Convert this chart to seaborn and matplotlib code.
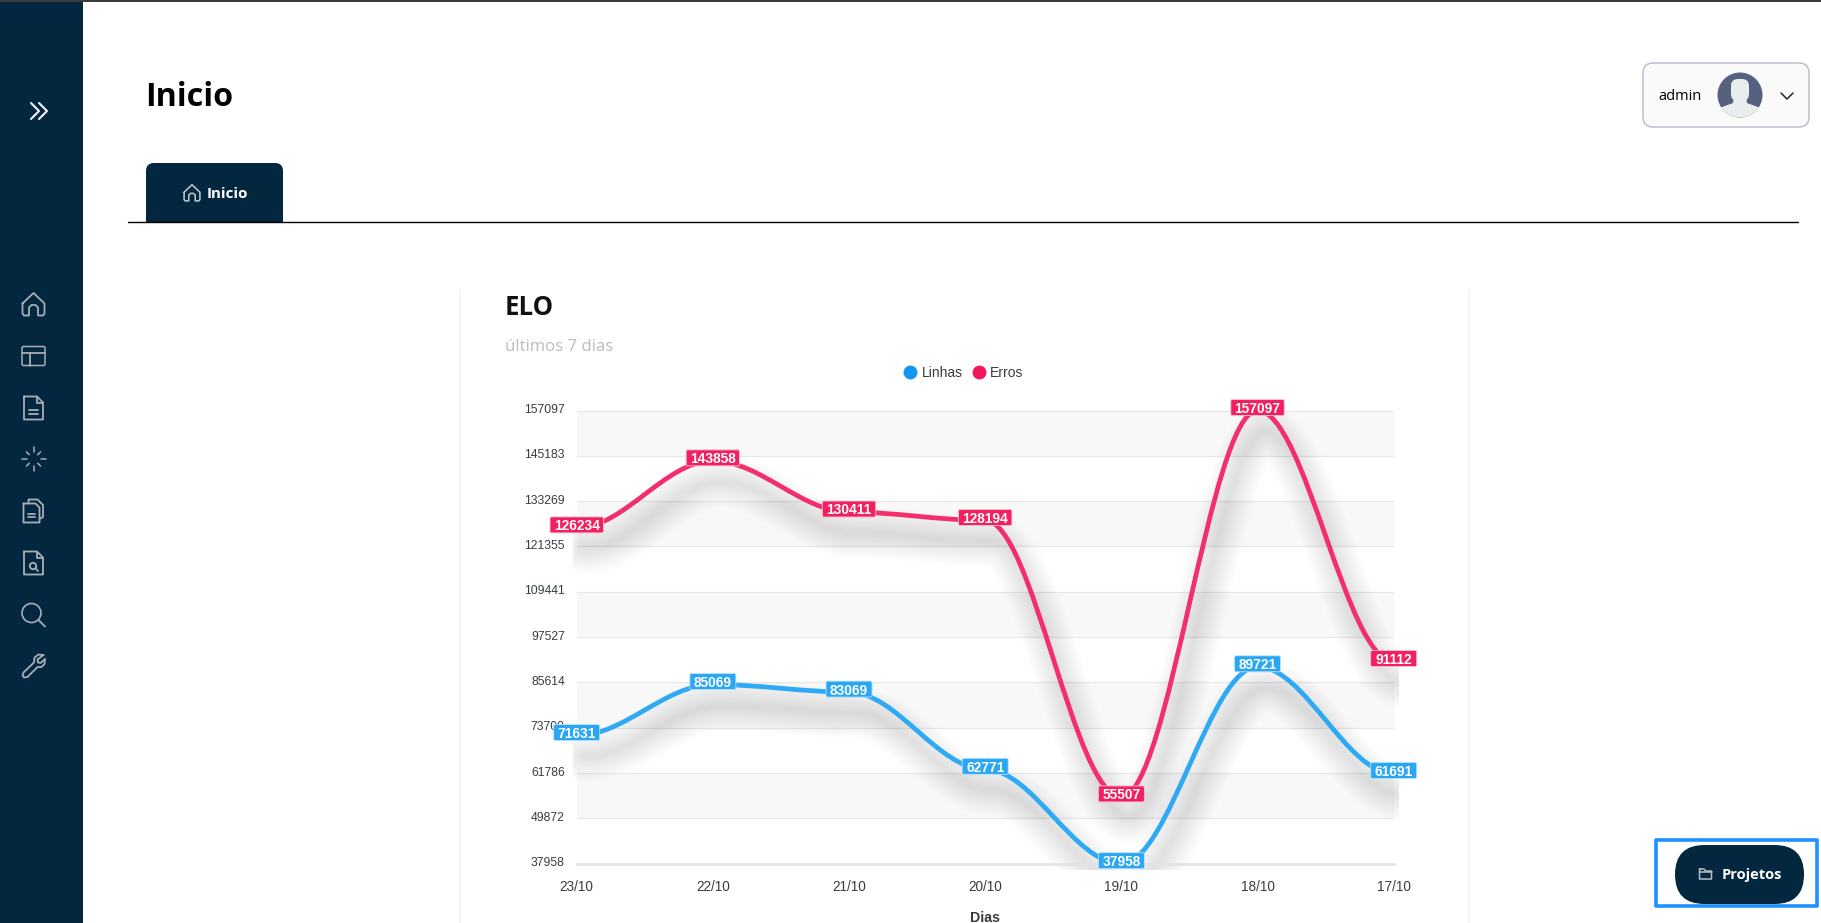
import numpy as np
import pandas as pd
import matplotlib.pyplot as plt
import seaborn as sns
from matplotlib.patches import Circle, FancyBboxPatch, PathPatch, Rectangle
from matplotlib.path import Path
from matplotlib.transforms import Affine2D, Bbox, ScaledTranslation

# valores
dias = ["23/10", "22/10", "21/10", "20/10", "19/10", "18/10", "17/10"]
linhas = [71631, 85069, 83069, 62771, 37958, 89721, 61691]
erros = [126234, 143858, 130411, 128194, 55507, 157097, 91112]
y_ticks = [157097, 145183, 133269, 121355, 109441, 97527, 85614, 73700, 61786, 49872, 37958]

NAVY = "#02273f"
ICON = "#a8aeb6"
CHART_FONT = ["Liberation Sans", "DejaVu Sans"]
UI_FONT = ["Open Sans", "DejaVu Sans"]
BLUE, RED = "#2ea9f4", "#f32e6c"
BLUE_BOX, RED_BOX = "#29a7f5", "#f2205f"

sns.set_theme(style="white")
plt.rcParams["font.family"] = CHART_FONT

W, H = 1821, 923
fig = plt.figure(figsize=(W / 100, H / 100), dpi=100, facecolor="white")

# camada da pagina, em pixels
ui = fig.add_axes([0, 0, 1, 1], zorder=0)
ui.set_xlim(0, W)
ui.set_ylim(H, 0)
ui.axis("off")


def stroke(points, color=ICON, lw=1.3, closed=False):
    xs, ys = zip(*points)
    if closed:
        xs, ys = xs + xs[:1], ys + ys[:1]
    ui.plot(xs, ys, color=color, lw=lw, solid_capstyle="round", solid_joinstyle="round")


def round_box(x0, y0, x1, y1, r, face, edge="none", lw=0):
    return ui.add_patch(FancyBboxPatch((x0 + r, y0 + r), x1 - x0 - 2 * r, y1 - y0 - 2 * r,
                                       boxstyle=f"round,pad={r},rounding_size={r}",
                                       fc=face, ec=edge, lw=lw))


def icon_home(cx, cy, s=1.0, color=ICON, lw=1.3):
    p = [(-11, -1), (0, -11.5), (11, -1), (11, 9), (9.5, 11), (4.5, 11), (4.5, 3),
         (2, 0.5), (-2, 0.5), (-4.5, 3), (-4.5, 11), (-9.5, 11), (-11, 9)]
    stroke([(cx + a * s, cy + b * s) for a, b in p], color, lw, closed=True)


def icon_layout(cx, cy):
    round_box(cx - 11.5, cy - 9.5, cx + 11.5, cy + 9.5, 1.5, "none", ICON, 1.1)
    stroke([(cx - 11.5, cy - 3.5), (cx + 11.5, cy - 3.5)])
    stroke([(cx - 3.5, cy - 3.5), (cx - 3.5, cy + 9.5)])


def doc_outline(cx, cy, w=9.5, h=11.5, fold=6):
    return [(cx - w, cy - h), (cx + w - fold, cy - h), (cx + w, cy - h + fold),
            (cx + w, cy + h), (cx - w, cy + h)]


def icon_doc(cx, cy):
    stroke(doc_outline(cx, cy), closed=True)
    stroke([(cx + 3.5, cy - 11.5), (cx + 3.5, cy - 5.5), (cx + 9.5, cy - 5.5)])
    stroke([(cx - 4.5, cy + 1.5), (cx + 4.5, cy + 1.5)])
    stroke([(cx - 4.5, cy + 5.5), (cx + 4.5, cy + 5.5)])


def icon_loader(cx, cy):
    for k in range(8):
        a = k * np.pi / 4
        r0 = 6 if k % 2 else 7
        r1 = 10 if k % 2 else 12
        stroke([(cx + r0 * np.cos(a), cy + r0 * np.sin(a)),
                (cx + r1 * np.cos(a), cy + r1 * np.sin(a))], lw=1.1)


def icon_docs(cx, cy):
    stroke(doc_outline(cx - 2, cy + 2, 8, 9.5, 4), closed=True)
    stroke([(cx - 6, cy + 2.5), (cx + 1, cy + 2.5)])
    stroke([(cx - 6, cy + 6), (cx + 1, cy + 6)])
    stroke([(cx - 5, cy - 7.5), (cx - 5, cy - 11.5), (cx + 4, cy - 11.5), (cx + 9.5, cy - 6),
            (cx + 9.5, cy + 6), (cx + 6, cy + 8)])


def icon_doc_search(cx, cy):
    stroke(doc_outline(cx, cy), closed=True)
    stroke([(cx + 3.5, cy - 11.5), (cx + 3.5, cy - 5.5), (cx + 9.5, cy - 5.5)])
    ui.add_patch(Circle((cx - 0.5, cy + 3), 3.2, fc="none", ec=ICON, lw=1.3))
    stroke([(cx + 2, cy + 5.5), (cx + 4.5, cy + 8)])


def icon_search(cx, cy):
    ui.add_patch(Circle((cx - 2, cy - 2), 9.5, fc="none", ec=ICON, lw=1.2))
    stroke([(cx + 5, cy + 5), (cx + 11.5, cy + 11.5)])


def icon_wrench(cx, cy):
    p = [(10, -11), (5, -11.5), (1, -8.5), (0.5, -3.5), (-10, 6.5), (-11, 9.5), (-9.5, 11.5),
         (-6, 11), (4, 1), (8, 1), (11, -2), (11.5, -7), (7, -3), (4.5, -3.5), (4, -6.5)]
    stroke([(cx + a, cy + b) for a, b in p], closed=True)


def icon_folder(cx, cy, color=ICON):
    stroke([(cx - 6, cy - 5), (cx - 1.5, cy - 5), (cx, cy - 3), (cx + 6, cy - 3),
            (cx + 6, cy + 5), (cx - 6, cy + 5)], color, 1.1, closed=True)
    stroke([(cx - 6, cy - 2), (cx + 6, cy - 2)], color, 1.1)


# barra lateral
ui.add_patch(Rectangle((0, 0), 83, H, fc=NAVY, ec="none"))
ui.add_patch(Rectangle((0, 0), W, 1.5, fc="#3a3a3a", ec="none"))
for dx in (0, 8):
    stroke([(31 + dx, 103), (39 + dx, 111), (31 + dx, 119)], "#f2f4f6", 1.5)
icon_home(33.5, 304.5)
icon_layout(33.5, 356)
icon_doc(33.5, 408)
icon_loader(33.5, 459)
icon_docs(33.5, 511)
icon_doc_search(33.5, 563)
icon_search(33.5, 615)
icon_wrench(33.5, 666)

# cabecalho
ui.text(145.5, 97, "Inicio", family=UI_FONT, fontsize=23.2, fontweight="bold", color="black",
        va="center")
tab = round_box(146, 163, 283, 240, 8, NAVY)
tab.set_clip_path(Rectangle((146, 163), 137, 59, transform=ui.transData))
icon_home(192, 193, 0.72, "#c4c9ce", 1.1)
ui.text(207, 193.5, "Inicio", family=UI_FONT, fontsize=10.9, fontweight="bold", color="white",
        va="center")
ui.plot([128, 1798], [222, 222], color="black", lw=1.0)

# caixa do utilizador
round_box(1643, 63, 1809, 127, 10, "#fafafa", "#b8b8c8", 1.0)
ui.text(1658, 96, "admin", family=UI_FONT, fontsize=10.5, fontweight="medium", color="black",
        va="center")
avatar = ui.add_patch(Circle((1740, 95), 22.5, fc="#56607f", ec="none"))
head = ui.add_patch(FancyBboxPatch((1734, 82), 12, 16, boxstyle="round,pad=3,rounding_size=7",
                                   fc="#e8eded", ec="none"))
torso = ui.fill([1734, 1746, 1747, 1766, 1766, 1714, 1714, 1733],
                [96, 96, 103, 110, 120, 120, 110, 103], color="#e8eded", lw=0)[0]
torso.set_clip_path(avatar)
stroke([(1781, 93), (1787, 99), (1793, 93)], "#222222", 1.1)

# botao Projetos
ui.add_patch(Rectangle((1655.5, 839.5), 161, 66, fc="none", ec="#1e90ff", lw=2.6, joinstyle="round"))
round_box(1675, 845, 1804, 904, 29.5, NAVY)
icon_folder(1705.5, 874, "#b9bec4")
ui.text(1722, 874.5, "Projetos", family=UI_FONT, fontsize=10.5, fontweight="bold", color="white",
        va="center")

# cartao do grafico
for x in (460, 1469):
    ui.plot([x, x], [290, H], color="#f3f3f3", lw=1.3)
ui.text(505, 307.5, "ELO", family=UI_FONT, fontsize=18.5, fontweight="bold", color="#111111",
        va="center")
ui.text(505, 347, "últimos 7 dias", family=UI_FONT, fontsize=12.1, color="#b9bdc3", va="center")

# grafico
x0, x1, y0, y1 = 576.7, 1393.7, 410.5, 863.7
ax = fig.add_axes([x0 / W, 1 - y1 / H, (x1 - x0) / W, (y1 - y0) / H], zorder=1)
ax.patch.set_alpha(0)

df = pd.DataFrame({
    "dia": dias * 2,
    "valor": linhas + erros,
    "serie": ["Linhas"] * len(dias) + ["Erros"] * len(dias),
})
sns.scatterplot(data=df, x="dia", y="valor", hue="serie", hue_order=["Linhas", "Erros"],
                palette=["#0f97f1", "#f2185b"], s=30, linewidth=0, clip_on=False, zorder=4, ax=ax)

ax.set_xlim(0, len(dias) - 1)
ax.set_ylim(min(y_ticks), max(y_ticks))
ax.set_yticks(y_ticks)
ax.set_yticklabels([str(v) for v in y_ticks], fontsize=8.7, color="#373d3f")
ax.tick_params(axis="y", length=0, pad=8.5)
ax.tick_params(axis="x", length=5, width=1.0, color="#e0e0e0", labelsize=9.8, labelcolor="#373d3f", pad=7)
for lbl in ax.get_yticklabels():
    lbl.set_transform(lbl.get_transform() + Affine2D().translate(0, 2))
ax.set_xlabel("Dias", fontsize=10.2, fontweight="bold", color="#373d3f", labelpad=12)
ax.set_ylabel("")

# faixas alternadas e grelha
ordered = sorted(y_ticks)
for k in range(len(ordered) - 1):
    if k % 2 == 1:
        ax.axhspan(ordered[k], ordered[k + 1], fc="#f8f8f8", ec="none", zorder=0)
ax.yaxis.grid(True, color="#e8e8e8", lw=0.85)
ax.set_axisbelow(True)
sns.despine(ax=ax, left=True, top=True, right=True)
ax.spines["bottom"].set_color("#e3e3e3")
ax.spines["bottom"].set_linewidth(1.9)


def smooth_path(values):
    # curva "smooth": tangente horizontal em cada ponto
    verts = [(0, values[0])]
    codes = [Path.MOVETO]
    for i in range(1, len(values)):
        verts += [(i - 1 + 0.35, values[i - 1]), (i - 0.35, values[i]), (i, values[i])]
        codes += [Path.CURVE4] * 3
    return Path(verts, codes)


shadow_clip = Bbox([[x0 - 4, H - y1 - 6], [x1 + 5, H - y0 + 6]])
shadow_tf = ax.transData + Affine2D().translate(8, -21)
for values, color in ((linhas, BLUE), (erros, RED)):
    path = smooth_path(values)
    # sombra desfocada, feita com tracos sobrepostos
    for lw_px in np.linspace(52, 3, 30):
        p = ax.add_patch(PathPatch(path, fc="none", ec="black", lw=lw_px * 0.72, alpha=0.0038,
                                   transform=shadow_tf, zorder=1.8, capstyle="round"))
        p.set_clip_path(None)
        p.set_clip_box(shadow_clip)
    ax.add_patch(PathPatch(path, fc="none", ec=color, lw=3.4, zorder=3, clip_on=False))

# etiquetas de valor
for values, box_color in ((linhas, BLUE_BOX), (erros, RED_BOX)):
    for i, v in enumerate(values):
        w = 7.4 * len(str(v)) + 9
        tf = ScaledTranslation(i, v, ax.transData)
        ax.add_patch(FancyBboxPatch((-w / 2 + 1, -4), w - 2, 14,
                                    boxstyle="round,pad=1,rounding_size=1.5",
                                    fc=box_color, ec="#bfe3fb" if box_color == BLUE_BOX else "#fbc3d6",
                                    lw=0.6, transform=tf, clip_on=False, zorder=5))
        ax.annotate(str(v), (i, v), xytext=(0, 2.2), textcoords="offset points", ha="center",
                    va="center_baseline", fontsize=9.9, fontweight="bold", color="white",
                    annotation_clip=False, zorder=6)

sns.move_legend(ax, "center", bbox_to_anchor=(963.5 / W, 1 - 373 / H), bbox_transform=fig.transFigure,
                ncol=2, frameon=False, title=None, fontsize=10, handlelength=1, handletextpad=0.3,
                columnspacing=0.7, labelcolor="#373d3f")
for h in ax.get_legend().legend_handles:
    h.set_markersize(10)

fig.savefig("out.png", dpi=100)
